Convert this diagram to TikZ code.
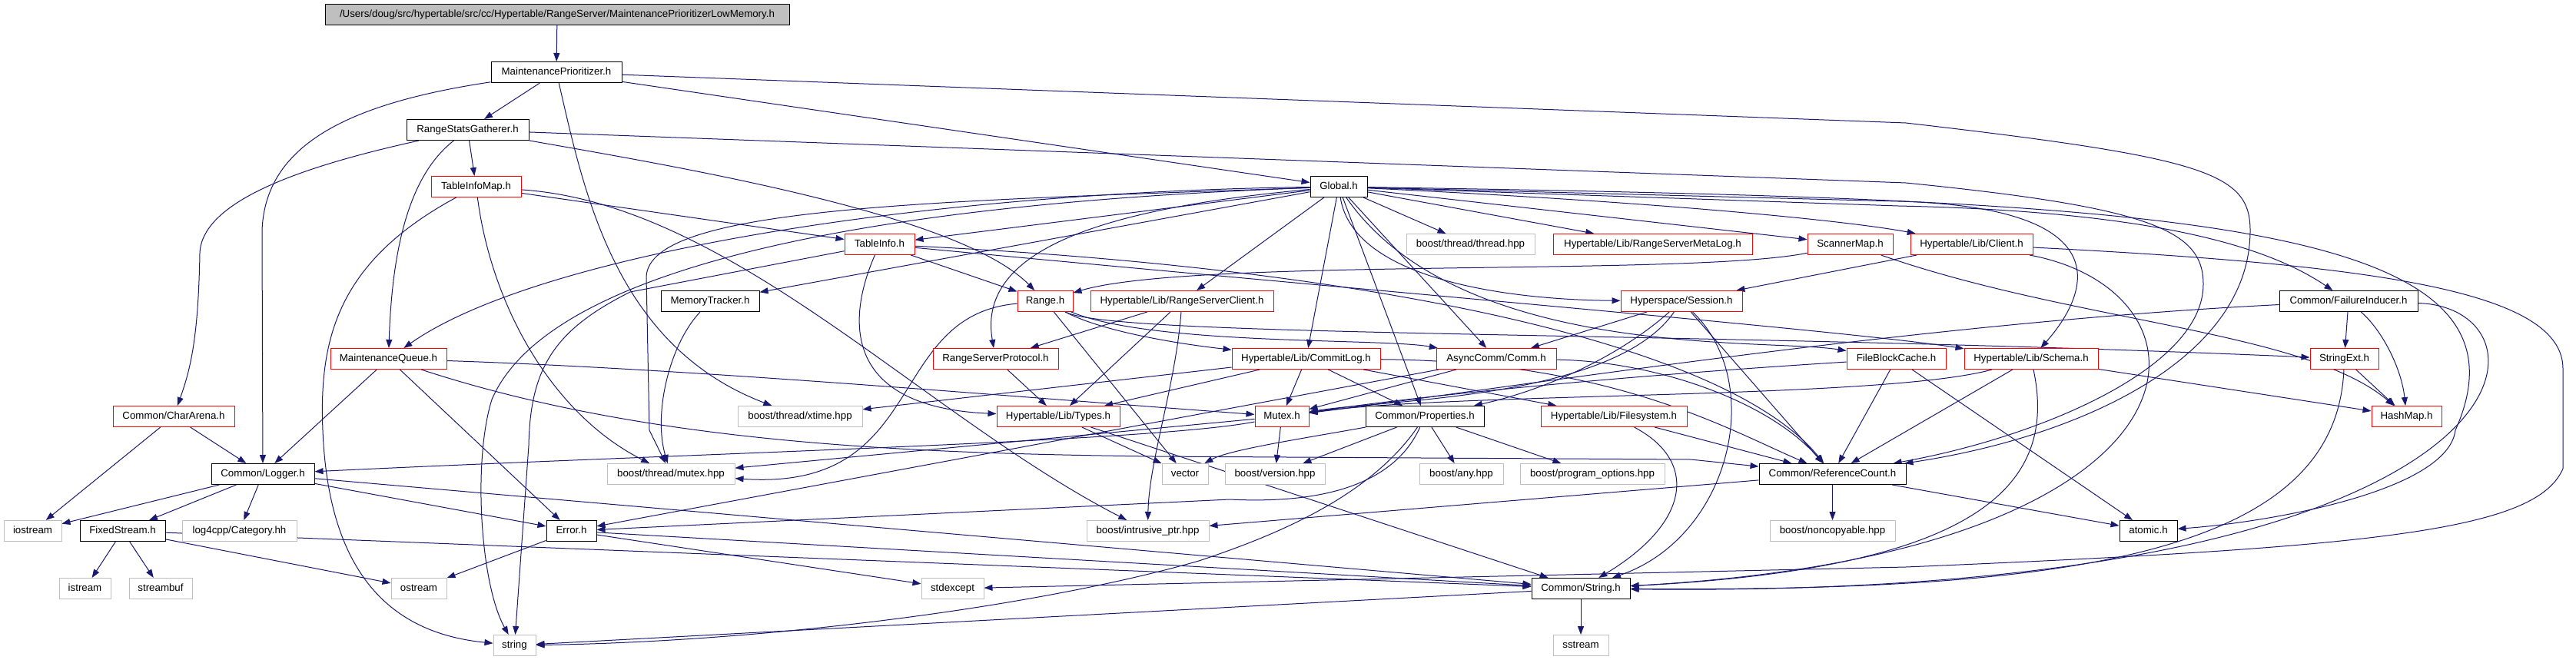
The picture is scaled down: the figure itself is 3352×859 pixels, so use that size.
\documentclass[tikz,border=0pt]{standalone}
\usepackage{fontspec}
\setmainfont{Liberation Sans}
\usetikzlibrary{arrows.meta}
\definecolor{edgecol}{HTML}{191970}
\definecolor{grayb}{HTML}{BFBFBF}
\pgfdeclarelayer{bg}
\pgfsetlayers{bg,main}
\tikzset{
  nd/.style={draw, fill=white, line width=1pt, inner sep=0pt, minimum height=27pt,
    text height=9.6pt, text depth=2.8pt, font=\fontsize{13.3pt}{16pt}\selectfont, anchor=center},
  incnd/.style={nd, draw=black},
  trnd/.style={nd, draw=red},
  extnd/.style={nd, draw=grayb},
  rootnd/.style={nd, draw=black, fill=grayb},
  dep/.style={draw=edgecol, line width=1pt, -{Triangle[length=11pt,width=8pt]}},
}
\begin{document}
\begin{tikzpicture}[x=1pt,y=-1pt]
\useasboundingbox (0,0) rectangle (3352,859);
\begin{pgfonlayer}{bg}
\fill[white] (0,0) rectangle (3352,859);
\end{pgfonlayer}
% nodes
\node[rootnd, minimum width=604pt] (top) at (725,19) {/Users/doug/src/hypertable/src/cc/Hypertable/RangeServer/MaintenancePrioritizerLowMemory.h};
\node[incnd, minimum width=170pt] (MP) at (724,94) {MaintenancePrioritizer.h};
\node[incnd, minimum width=159pt] (RSG) at (608.5,169) {RangeStatsGatherer.h};
\node[trnd, minimum width=117pt] (TIM) at (619.5,243) {TableInfoMap.h};
\node[incnd, minimum width=74pt] (Global) at (1742,243) {Global.h};
\node[trnd, minimum width=91pt] (TableInfo) at (1144.5,318) {TableInfo.h};
\node[extnd, minimum width=167pt] (thread) at (1913.5,318) {boost/thread/thread.hpp};
\node[trnd, minimum width=259pt] (RSMetaLog) at (2150.5,318) {Hypertable/Lib/RangeServerMetaLog.h};
\node[trnd, minimum width=111pt] (ScannerMap) at (2407.5,318) {ScannerMap.h};
\node[trnd, minimum width=159pt] (Client) at (2565.5,318) {Hypertable/Lib/Client.h};
\node[incnd, minimum width=128pt] (MemTrack) at (924,392) {MemoryTracker.h};
\node[trnd, minimum width=72pt] (Range) at (1360,392) {Range.h};
\node[trnd, minimum width=238pt] (RSClient) at (1538,392) {Hypertable/Lib/RangeServerClient.h};
\node[trnd, minimum width=158pt] (Session) at (2188,392) {Hyperspace/Session.h};
\node[incnd, minimum width=180pt] (FI) at (3056,392) {Common/FailureInducer.h};
\node[trnd, minimum width=151pt] (MQ) at (505.5,467) {MaintenanceQueue.h};
\node[trnd, minimum width=163pt] (RSProto) at (1295.5,467) {RangeServerProtocol.h};
\node[trnd, minimum width=193pt] (CommitLog) at (1699.5,467) {Hypertable/Lib/CommitLog.h};
\node[trnd, minimum width=156pt] (Comm) at (1947,467) {AsyncComm/Comm.h};
\node[trnd, minimum width=129pt] (FBC) at (2467.5,467) {FileBlockCache.h};
\node[trnd, minimum width=174pt] (Schema) at (2643,467) {Hypertable/Lib/Schema.h};
\node[trnd, minimum width=89pt] (StringExt) at (3050.5,467) {StringExt.h};
\node[trnd, minimum width=158pt] (CharArena) at (226,542) {Common/CharArena.h};
\node[extnd, minimum width=162pt] (xtime) at (1041,542) {boost/thread/xtime.hpp};
\node[trnd, minimum width=160pt] (Types) at (1377,542) {Hypertable/Lib/Types.h};
\node[trnd, minimum width=70pt] (Mutex) at (1668,542) {Mutex.h};
\node[incnd, minimum width=154pt] (Props) at (1854,542) {Common/Properties.h};
\node[trnd, minimum width=190pt] (FS) at (2100,542) {Hypertable/Lib/Filesystem.h};
\node[trnd, minimum width=91pt] (HashMap) at (3131.5,542) {HashMap.h};
\node[incnd, minimum width=134pt] (Logger) at (342,617) {Common/Logger.h};
\node[extnd, minimum width=166pt] (mutexhpp) at (873,617) {boost/thread/mutex.hpp};
\node[extnd, minimum width=60pt] (vector) at (1542,617) {vector};
\node[extnd, minimum width=130pt] (version) at (1659,617) {boost/version.hpp};
\node[extnd, minimum width=109pt] (any) at (1901.5,617) {boost/any.hpp};
\node[extnd, minimum width=188pt] (progopt) at (2072,617) {boost/program\_options.hpp};
\node[incnd, minimum width=191pt] (RefCount) at (2384.5,617) {Common/ReferenceCount.h};
\node[extnd, minimum width=75pt] (iostream) at (42.5,691) {iostream};
\node[incnd, minimum width=111pt] (FixedStream) at (159.5,691) {FixedStream.h};
\node[extnd, minimum width=149pt] (log4cpp) at (311.5,691) {log4cpp/Category.hh};
\node[incnd, minimum width=65pt] (Error) at (743.5,691) {Error.h};
\node[extnd, minimum width=159pt] (intrusive) at (1493.5,691) {boost/intrusive\_ptr.hpp};
\node[extnd, minimum width=163pt] (noncopy) at (2384.5,691) {boost/noncopyable.hpp};
\node[incnd, minimum width=75pt] (atomic) at (2795.5,691) {atomic.h};
\node[extnd, minimum width=67pt] (istream) at (110.5,766) {istream};
\node[extnd, minimum width=82pt] (streambuf) at (209,766) {streambuf};
\node[extnd, minimum width=72pt] (ostream) at (545,766) {ostream};
\node[extnd, minimum width=81pt] (stdexcept) at (1239.5,766) {stdexcept};
\node[incnd, minimum width=128pt] (String) at (2057,766) {Common/String.h};
\node[extnd, minimum width=55pt] (string) at (669.5,840) {string};
\node[extnd, minimum width=72pt] (sstream) at (2057,840) {sstream};
% edges
\begin{pgfonlayer}{bg}
\draw[dep] (top) -- (MP);
\draw[dep] (MP) -- (RSG);
\draw[dep] (MP) .. controls (450,135) and (345,190) .. (341,300) -- (Logger);
\draw[dep] (MP) -- (Global);
\draw[dep] (MP) .. controls (760,250) and (800,450) .. (xtime);
\draw[dep] (MP) -- (2480,160) .. controls (2870,205) and (2928,225) .. (2928,300) .. controls (2928,470) and (2700,570) .. (RefCount);
\draw[dep] (RSG) .. controls (400,215) and (262,260) .. (260,330) .. controls (258,440) and (248,480) .. (CharArena);
\draw[dep] (RSG) .. controls (530,230) and (510,330) .. (MQ);
\draw[dep] (RSG) -- (TIM);
\draw[dep] (RSG) .. controls (900,220) and (1250,280) .. (Range);
\draw[dep] (RSG) -- (2480,238) .. controls (2800,270) and (2867,300) .. (2867,370) .. controls (2867,480) and (2650,570) .. (RefCount);
\draw[dep] (TIM) -- (TableInfo);
\draw[dep] (TIM) .. controls (640,400) and (720,540) .. (mutexhpp);
\draw[dep] (TIM) .. controls (440,340) and (415,440) .. (420,560) .. controls (428,760) and (520,825) .. (string);
\draw[dep] (TIM) .. controls (950,265) and (1200,540) .. (intrusive);
\draw[dep] (CharArena) -- (Logger);
\draw[dep] (CharArena) -- (iostream);
\draw[dep] (MQ) -- (Logger);
\draw[dep] (MQ) -- (Error);
\draw[dep] (MQ) .. controls (900,480) and (1300,515) .. (Mutex);
\draw[dep] (MQ) .. controls (850,580) and (1200,590) .. (1500,594) -- (2200,598) -- (RefCount);
\draw[dep] (Global) -- (TableInfo);
\draw[dep] (Global) -- (MemTrack);
\draw[dep] (Global) .. controls (1200,250) and (700,330) .. (MQ);
\draw[dep] (Global) -- (thread);
\draw[dep] (Global) -- (RSMetaLog);
\draw[dep] (Global) -- (ScannerMap);
\draw[dep] (Global) .. controls (2200,265) and (2420,290) .. (Client);
\draw[dep] (Global) -- (RSClient);
\draw[dep] (Global) .. controls (1450,270) and (1270,320) .. (RSProto);
\draw[dep] (Global) -- (CommitLog);
\draw[dep] (Global) -- (Comm);
\draw[dep] (Global) .. controls (1760,360) and (1950,390) .. (Session);
\draw[dep] (Global) -- (2470,268) .. controls (2800,275) and (2950,320) .. (FI);
\draw[dep] (Global) .. controls (1900,470) and (2300,440) .. (FBC);
\draw[dep] (Global) -- (2470,262) .. controls (2760,270) and (2720,380) .. (Schema);
\draw[dep] (Global) -- (Props);
\draw[dep] (Global) .. controls (1200,262) and (845,270) .. (841,360) -- (845,560) -- (mutexhpp);
\draw[dep] (Global) .. controls (1000,270) and (700,380) .. (640,520) .. controls (615,600) and (625,760) .. (string);
\draw[dep] (Global) .. controls (2800,260) and (3320,280) .. (3195,560) .. controls (3185,640) and (2950,680) .. (atomic);
\draw[dep] (TableInfo) -- (Range);
\draw[dep] (TableInfo) .. controls (1100,420) and (1100,530) .. (Types);
\draw[dep] (TableInfo) -- (820,380) .. controls (720,430) and (690,480) .. (688,580) -- (string);
\draw[dep] (TableInfo) .. controls (1800,350) and (2250,450) .. (RefCount);
\draw[dep] (TableInfo) .. controls (1800,380) and (2400,430) .. (Schema);
\draw[dep] (Range) .. controls (1450,440) and (1600,455) .. (CommitLog);
\draw[dep] (Range) .. controls (1500,450) and (1800,440) .. (Comm);
\draw[dep] (Range) -- (vector);
\draw[dep] (Range) .. controls (1150,410) and (1210,640) .. (mutexhpp);
\draw[dep] (Range) .. controls (1450,440) and (2200,430) .. (StringExt);
\draw[dep] (ScannerMap) .. controls (2200,360) and (1550,335) .. (Range);
\draw[dep] (ScannerMap) .. controls (2700,420) and (3000,430) .. (HashMap);
\draw[dep] (Client) -- (Session);
\draw[dep] (Client) .. controls (2900,380) and (2900,720) .. (String);
\draw[dep] (Client) .. controls (3100,345) and (3335,380) .. (3335,480) -- (3335,610) .. controls (3300,690) and (3100,712) .. (2480,738) -- (stdexcept);
\draw[dep] (RSClient) -- (RSProto);
\draw[dep] (RSClient) -- (Types);
\draw[dep] (RSClient) .. controls (1530,500) and (1495,600) .. (intrusive);
\draw[dep] (RSProto) -- (Types);
\draw[dep] (CommitLog) -- (xtime);
\draw[dep] (CommitLog) -- (Types);
\draw[dep] (CommitLog) -- (Mutex);
\draw[dep] (CommitLog) -- (Props);
\draw[dep] (CommitLog) -- (FS);
\draw[dep] (CommitLog) .. controls (2100,470) and (2250,560) .. (RefCount);
\draw[dep] (Comm) -- (Mutex);
\draw[dep] (Comm) .. controls (2150,470) and (2300,520) .. (RefCount);
\draw[dep] (Comm) -- (Error);
\draw[dep] (Session) -- (Comm);
\draw[dep] (Session) .. controls (2100,520) and (1800,520) .. (Mutex);
\draw[dep] (Session) .. controls (2100,470) and (2000,510) .. (Props);
\draw[dep] (Session) -- (RefCount);
\draw[dep] (Session) .. controls (2300,500) and (2250,700) .. (String);
\draw[dep] (FBC) .. controls (2100,490) and (1850,515) .. (Mutex);
\draw[dep] (FBC) -- (RefCount);
\draw[dep] (FBC) -- (atomic);
\draw[dep] (Schema) .. controls (2450,520) and (1900,510) .. (Mutex);
\draw[dep] (Schema) -- (HashMap);
\draw[dep] (Schema) -- (RefCount);
\draw[dep] (Schema) .. controls (2680,640) and (2560,740) .. (String);
\draw[dep] (StringExt) -- (HashMap);
\draw[dep] (StringExt) .. controls (3040,720) and (2700,770) .. (String);
\draw[dep] (FI) -- (StringExt);
\draw[dep] (FI) .. controls (3100,430) and (3125,480) .. (HashMap);
\draw[dep] (FI) .. controls (2500,420) and (2000,500) .. (Mutex);
\draw[dep] (FI) .. controls (3340,400) and (3320,780) .. (String);
\draw[dep] (RefCount) -- (noncopy);
\draw[dep] (RefCount) -- (intrusive);
\draw[dep] (RefCount) -- (atomic);
\draw[dep] (Types) -- (vector);
\draw[dep] (Types) -- (String);
\draw[dep] (Props) -- (version);
\draw[dep] (Props) .. controls (1700,570) and (1600,585) .. (vector);
\draw[dep] (Props) -- (any);
\draw[dep] (Props) -- (progopt);
\draw[dep] (Props) .. controls (1810,640) and (1700,655) .. (1600,650) -- (Error);
\draw[dep] (Props) .. controls (1780,650) and (1650,700) .. (1560,730) .. controls (1350,790) and (1000,835) .. (string);
\draw[dep] (FS) -- (RefCount);
\draw[dep] (FS) .. controls (2210,600) and (2200,680) .. (String);
\draw[dep] (Mutex) .. controls (1500,575) and (900,590) .. (Logger);
\draw[dep] (Mutex) -- (mutexhpp);
\draw[dep] (Mutex) -- (version);
\draw[dep] (MemTrack) .. controls (870,450) and (850,540) .. (mutexhpp);
\draw[dep] (Logger) -- (iostream);
\draw[dep] (Logger) -- (FixedStream);
\draw[dep] (Logger) -- (log4cpp);
\draw[dep] (Logger) -- (Error);
\draw[dep] (Logger) -- (String);
\draw[dep] (FixedStream) -- (istream);
\draw[dep] (FixedStream) -- (streambuf);
\draw[dep] (FixedStream) -- (ostream);
\draw[dep] (FixedStream) -- (String);
\draw[dep] (Error) -- (ostream);
\draw[dep] (Error) -- (stdexcept);
\draw[dep] (Error) -- (String);
\draw[dep] (String) -- (sstream);
\draw[dep] (String) -- (string);
\end{pgfonlayer}
\end{tikzpicture}
\end{document}
